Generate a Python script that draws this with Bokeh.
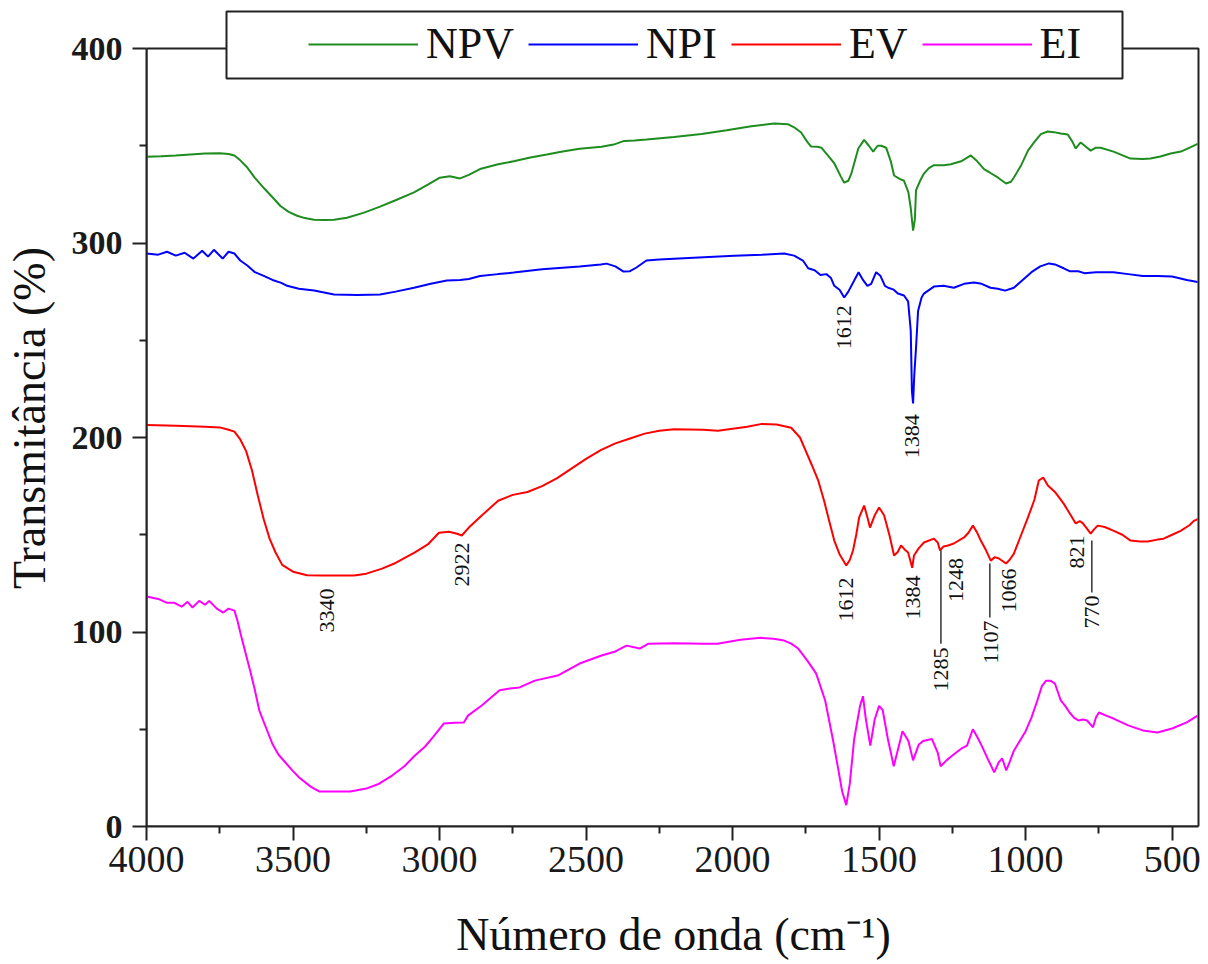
import math
from bokeh.plotting import figure
from bokeh.models import (Range1d, FixedTicker, Legend, LegendItem, BoxAnnotation)
from bokeh.core.properties import value
from bokeh.embed import file_html
from bokeh.resources import INLINE

# ---------------- data ----------------
npv_w = [4000, 3950, 3900, 3850, 3800, 3750, 3720, 3700, 3680, 3656, 3630, 3598, 3570, 3543, 3515, 3486,
         3460, 3428, 3390, 3360, 3316, 3260, 3203, 3150, 3087, 3040, 2999, 2965, 2930, 2900, 2862, 2800,
         2747, 2690, 2634, 2580, 2522, 2447, 2406, 2370, 2334, 2294, 2200, 2106, 2020, 1936, 1880, 1857,
         1810, 1790, 1766, 1745, 1732, 1710, 1697, 1675, 1653, 1630, 1619, 1605, 1595, 1583, 1571, 1551,
         1535, 1520, 1505, 1493, 1476, 1460, 1449, 1430, 1415, 1400, 1392, 1384, 1378, 1374, 1360, 1347,
         1330, 1313, 1280, 1255, 1220, 1187, 1165, 1142, 1120, 1095, 1067, 1050, 1040, 1015, 992, 970,
         948, 925, 904, 880, 856, 840, 829, 812, 790, 778, 760, 744, 700, 642, 600, 574, 540, 505, 470,
         440, 413]
npv_t = [344.4, 344.6, 345.0, 345.5, 346.0, 346.2, 345.8, 345.0, 342.5, 338.8, 333.5, 328, 323.5, 319, 316, 314,
         312.8, 312, 311.8, 312, 313, 315.5, 318.7, 322, 326, 330, 333.6, 334.3, 333.2, 335, 338, 340.5,
         342, 344, 345.5, 347, 348.5, 349.5, 350.6, 352.5, 352.7, 353.2, 354.5, 356, 358, 360, 361, 361.4,
         361, 359.5, 356.8, 352, 349.6, 349.5, 349, 345, 341, 334, 331, 332, 335.5, 342, 348.6, 353,
         350, 347, 350, 350, 349, 342, 334.7, 333, 332, 326, 318, 306.4, 312, 327, 332, 335.7,
         338.5, 340, 340, 340.5, 342, 345, 342, 338, 336, 333.7, 330.6, 331.5, 333.7, 340, 347.5, 352,
         356, 357.3, 357, 356.3, 355.8, 352, 348.6, 351.7, 349, 347.5, 349, 349, 347, 343.4, 343.2, 343.4,
         344.5, 346, 347, 349, 351]

npi_w = [4000, 3960, 3930, 3900, 3870, 3840, 3810, 3790, 3770, 3740, 3720, 3700, 3680, 3656, 3630, 3598,
         3570, 3540, 3520, 3480, 3428, 3360, 3280, 3203, 3150, 3087, 3030, 2975, 2930, 2900, 2862, 2800,
         2747, 2650, 2522, 2450, 2430, 2400, 2372, 2350, 2328, 2294, 2250, 2150, 1994, 1900, 1824, 1790,
         1760, 1742, 1720, 1700, 1680, 1664, 1653, 1635, 1619, 1605, 1585, 1570, 1555, 1540, 1527, 1510,
         1495, 1480, 1469, 1450, 1436, 1415, 1401, 1392, 1388, 1384, 1380, 1374, 1367, 1355, 1347, 1313,
         1280, 1245, 1210, 1176, 1150, 1120, 1095, 1070, 1040, 1010, 980, 950, 920, 900, 870, 850, 820,
         800, 760, 700, 650, 600, 550, 500, 450, 413]
npi_t = [294.6, 294, 295.5, 293.5, 295, 292, 296, 293, 296.5, 292, 295.5, 294.6, 291, 288.4, 285, 283,
         281, 279.5, 278, 276.5, 275.6, 273.5, 273.3, 273.5, 275, 277, 279, 280.7, 281, 281.5, 283, 284,
         284.8, 286.5, 287.9, 289, 289.4, 288, 285.3, 285.5, 287.4, 291, 291.5, 292.3, 293.5, 294, 294.6, 293.5,
         291, 287, 286, 283.5, 284, 282, 278, 276, 272, 275, 280.7, 285, 281, 278, 279, 285,
         283, 278, 277, 276, 274, 273, 270, 255, 224, 217.5, 232, 246, 265, 272, 274, 277.6,
         278, 277, 279, 279.7, 279, 277, 276.5, 275.5, 277, 281, 285, 288, 289.5, 289, 287, 285.5, 285.5,
         284.5, 285, 285, 284, 283, 283, 282.8, 281, 280]

ev_w = [4000, 3900, 3800, 3750, 3720, 3700, 3680, 3660, 3640, 3620, 3600, 3580, 3560, 3537, 3500, 3452,
        3400, 3292, 3250, 3196, 3150, 3084, 3040, 3002, 2968, 2940, 2924, 2900, 2856, 2800, 2750, 2700,
        2650, 2600, 2550, 2500, 2450, 2400, 2350, 2300, 2250, 2200, 2100, 2050, 2000, 1950, 1900, 1850,
        1800, 1770, 1750, 1730, 1708, 1688, 1670, 1653, 1635, 1612, 1600, 1589, 1578, 1568, 1551, 1540,
        1531, 1515, 1500, 1483, 1465, 1449, 1437, 1425, 1410, 1401, 1387, 1381, 1365, 1347, 1313, 1300,
        1292, 1280, 1265, 1245, 1210, 1195, 1180, 1165, 1153, 1135, 1119, 1105, 1091, 1067, 1055, 1040,
        1015, 992, 970, 955, 940, 924, 900, 870, 850, 829, 815, 805, 790, 778, 765, 754, 730, 699, 670,
        642, 610, 584, 550, 529, 500, 471, 440, 427, 413]
ev_t = [206.4, 206, 205.5, 205.2, 204, 203, 199, 193, 183, 170, 158, 148, 141, 134.5, 131, 129.2,
        129, 129, 130, 132.6, 135.5, 140.9, 145, 151, 151.5, 150.5, 149.6, 153.7, 159.9, 167.5, 170.5, 172,
        175, 179, 184, 189, 193.5, 197, 199.5, 202, 203.5, 204.3, 204, 203.5, 204.5, 205.5, 207, 206.7,
        205, 200, 193, 186, 178, 167.6, 157, 147, 140, 134.2, 137, 141.9, 150, 158.9, 165, 159,
        153.7, 160, 164, 160, 150, 139.3, 141, 144.5, 142, 140.9, 133, 139.3, 143, 146, 148, 146,
        141.9, 144, 144.5, 145.5, 148.6, 151, 154.7, 151, 147, 142, 136.7, 138.5, 137.8, 135.2, 137, 140.3,
        150, 158.9, 168, 177.9, 179.4, 175.3, 172, 166, 161, 155.8, 157, 156, 153, 150.6, 153, 154.7, 154, 152, 150,
        147, 146.5, 146.5, 147.5, 148, 150, 152, 155, 157, 158]

ei_w = [4000, 3960, 3930, 3905, 3880, 3860, 3843, 3820, 3800, 3786, 3760, 3738, 3720, 3700, 3690, 3677,
        3660, 3646, 3630, 3615, 3590, 3571, 3550, 3526, 3500, 3479, 3440, 3411, 3305, 3250, 3206, 3162,
        3120, 3084, 3050, 3023, 2985, 2950, 2917, 2903, 2856, 2795, 2760, 2727, 2675, 2597, 2522, 2447,
        2400, 2362, 2317, 2287, 2200, 2100, 2052, 1973, 1905, 1860, 1824, 1800, 1776, 1745, 1715, 1684,
        1657, 1640, 1626, 1612, 1600, 1585, 1565, 1555, 1545, 1530, 1515, 1500, 1488, 1470, 1450, 1435,
        1420, 1400, 1384, 1365, 1350, 1320, 1300, 1290, 1270, 1250, 1220, 1200, 1180, 1165, 1150, 1130,
        1107, 1092, 1080, 1066, 1055, 1040, 1020, 1000, 980, 960, 945, 930, 915, 900, 880, 865, 850,
        835, 820, 805, 790, 770, 760, 750, 725, 700, 650, 600, 550, 500, 450, 413]
ei_t = [118.2, 117, 115, 115, 113, 115.5, 112.6, 116, 114, 116, 112, 110, 112, 111, 106, 98,
        88, 80, 70, 59.6, 50, 42.7, 37, 32.9, 28.5, 25.2, 20.5, 18, 18, 19.5, 22, 26.2,
        31, 36.5, 41, 45.8, 53, 53.3, 53.5, 57, 62.2, 70, 71, 71.5, 75, 77.6, 83.8, 87.9,
        90, 93, 91.5, 94, 94.2, 94, 94, 96, 97, 96.5, 95.6, 94, 91.5, 85.3, 78.7, 64.8,
        44.2, 30, 18, 11, 22, 45, 62, 67, 55, 41.6, 55, 62, 60, 45, 31, 40,
        49, 44, 34, 42, 44, 45, 38, 31, 34, 36.5, 40, 41.6, 50, 46, 41.6, 35,
        27.8, 33, 35, 28.8, 33, 39, 44, 49, 56, 64.8, 72, 75, 75, 73.5, 64.8, 62, 58.6,
        56, 54.5, 55, 54.5, 51, 56, 58.6, 57, 55.5, 52, 49.4, 48.3, 50.4, 53.5, 57]

series_names = ["NPV", "NPI", "EV", "EI"]
series_colors = ["#1e8c1e", "#0000ff", "#ff0000", "#ff00ff"]

# peak annotations (label text, label x, label top y)
npi_peak_text = ["1612", "1384"]
npi_peak_x = [1621, 1388]
npi_peak_y = [268, 212]

ev_peak_text = ["3340", "2922", "1612", "1384", "1285", "1248", "1107", "1066", "821", "770"]
ev_peak_x = [3383, 2924, 1612, 1383, 1289, 1238, 1118, 1057, 826, 773]
ev_peak_y = [122.4, 146, 128, 129, 92, 138, 105.9, 132.6, 149.6, 118.8]

# leader lines for some EV labels
lead_x = [1289, 1122, 774]
lead_y0 = [141.9, 135.2, 147]
lead_y1 = [94, 107.4, 120.3]

x_lo, x_hi = 4000, 410
y_lo, y_hi = 0, 400
x_major = [500, 1000, 1500, 2000, 2500, 3000, 3500, 4000]
x_minor = [750, 1250, 1750, 2250, 2750, 3250, 3750]
y_major = [0, 100, 200, 300, 400]
y_minor = [50, 150, 250, 350]

# ---------------- figure ----------------
SERIF = "Liberation Serif"
FRAME_LEFT = 144
AXIS_RIGHT = 1198      # px where x = 410 sits
FRAME_RIGHT = 1200
FRAME_TOP = 9          # px from top of canvas (room for the legend box)
AXIS_TOP = 48          # px where y = 400 sits
FRAME_BOTTOM = 826
y_view_top = y_hi * (FRAME_BOTTOM - FRAME_TOP) / (FRAME_BOTTOM - AXIS_TOP)
px_per_unit = (AXIS_RIGHT - FRAME_LEFT) / (x_lo - x_hi)
x_view_end = x_hi - (FRAME_RIGHT - AXIS_RIGHT) / px_per_unit

p = figure(width=1208, height=964, x_range=Range1d(x_lo, x_view_end), y_range=Range1d(y_lo, y_view_top),
           output_backend="svg", toolbar_location=None,
           min_border_left=FRAME_LEFT, min_border_right=1208 - FRAME_RIGHT, min_border_top=FRAME_TOP,
           min_border_bottom=964 - FRAME_BOTTOM)
p.background_fill_color = "white"
p.border_fill_color = "white"
p.outline_line_color = None
p.xgrid.visible = False
p.ygrid.visible = False

# plot frame (top and right edges) in data units
frame_box = BoxAnnotation(left=x_lo, right=x_hi, bottom=y_lo, top=y_hi,
                          fill_alpha=0, line_color="#222222", line_alpha=1.0, line_width=2,
                          level="underlay")
p.add_layout(frame_box)

renderers = []
for w, t, c in zip([npv_w, npi_w, ev_w, ei_w], [npv_t, npi_t, ev_t, ei_t], series_colors):
    r = p.line(w, t, line_color=c, line_width=2)
    renderers.append(r)

# axes
for ax in (p.xaxis[0], p.yaxis[0]):
    ax.axis_line_width = 2
    ax.axis_line_color = "#222222"
    ax.major_tick_line_width = 2
    ax.minor_tick_line_width = 2
    ax.major_tick_line_color = "#222222"
    ax.minor_tick_line_color = "#222222"
    ax.major_tick_in = 0
    ax.major_tick_out = 14
    ax.minor_tick_in = 0
    ax.minor_tick_out = 7
    ax.major_label_text_font = SERIF
    ax.major_label_text_color = "#1a1a1a"
    ax.axis_label_text_font = SERIF
    ax.axis_label_text_font_style = "normal"
    ax.axis_label_text_color = "#111111"
    ax.axis_label_text_font_size = "46px"

p.yaxis[0].bounds = (y_lo, y_hi)
p.xaxis[0].bounds = (x_hi, x_lo)
p.xaxis[0].ticker = FixedTicker(ticks=x_major, minor_ticks=x_minor)
p.yaxis[0].ticker = FixedTicker(ticks=y_major, minor_ticks=y_minor)
p.xaxis[0].major_label_text_font_size = "38px"
p.yaxis[0].major_label_text_font_size = "34px"
p.yaxis[0].major_label_text_font_style = "bold"
p.xaxis[0].major_label_standoff = 6
p.yaxis[0].major_label_standoff = 10
p.xaxis[0].axis_label = "Número de onda (cm⁻¹)"
p.yaxis[0].axis_label = "Transmitância (%)"
p.xaxis[0].axis_label_standoff = 34
p.yaxis[0].axis_label_standoff = 14

# peak labels
p.text(x=npi_peak_x, y=npi_peak_y, text=npi_peak_text, angle=math.pi / 2,
       text_align="right", text_baseline="middle", text_font=value(SERIF),
       text_font_size="22px", text_color="#111111")
p.text(x=ev_peak_x, y=ev_peak_y, text=ev_peak_text, angle=math.pi / 2,
       text_align="right", text_baseline="middle", text_font=value(SERIF),
       text_font_size="22px", text_color="#111111")
p.segment(x0=lead_x, y0=lead_y0, x1=lead_x, y1=lead_y1, line_color="#333333", line_width=1.5)

# legend box (frame-relative screen units)
legend_box = BoxAnnotation(left=80, right=976, bottom=748, top=815,
                           left_units="screen", right_units="screen",
                           top_units="screen", bottom_units="screen",
                           fill_color="white", fill_alpha=1.0,
                           line_color="#222222", line_alpha=1.0, line_width=2, level="annotation")
p.add_layout(legend_box)

legend = Legend(items=[LegendItem(label=n, renderers=[r]) for n, r in zip(series_names, renderers)],
                orientation="horizontal", location=(154, 749),
                glyph_width=110, glyph_height=50, label_height=50, label_standoff=8,
                spacing=14, padding=8, margin=0,
                label_text_font=SERIF, label_text_font_size="44px", label_text_color="#111111",
                border_line_alpha=0, background_fill_alpha=0)
p.add_layout(legend, "center")

open("out.html", "w").write(file_html(p, INLINE))
